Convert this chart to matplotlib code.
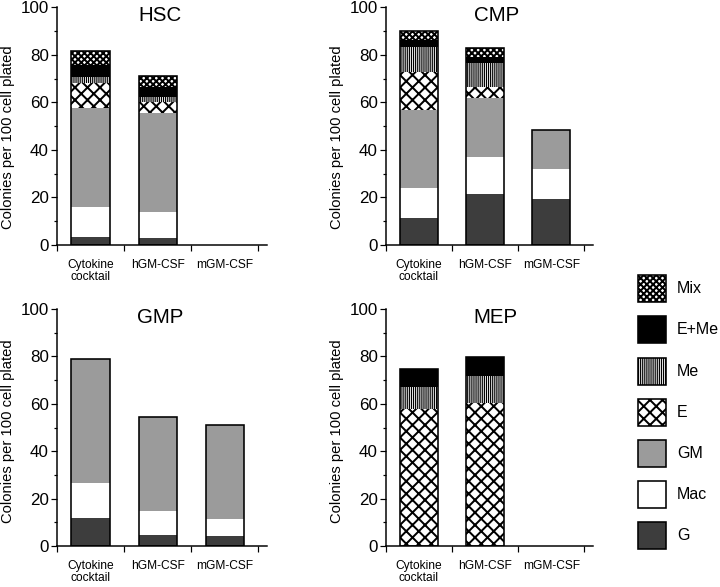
import matplotlib
matplotlib.use('Agg')
import matplotlib.pyplot as plt
from matplotlib.patches import Rectangle

plt.rcParams['font.family'] = ['Liberation Sans', 'DejaVu Sans']

# ---------------- data ----------------
conditions = ['Cytokine\ncocktail', 'hGM-CSF', 'mGM-CSF']
colony_types = ['G', 'Mac', 'GM', 'E', 'Me', 'E+Me', 'Mix']   # bottom -> top
panel_names = ['HSC', 'CMP', 'GMP', 'MEP']

# segment heights per condition, in order of colony_types
hsc_cytokine = [3.5, 12.5, 41.5, 10.5, 2.8, 4.9, 5.9]
hsc_hgm      = [3.0, 11.0, 41.7, 4.6, 2.1, 4.2, 4.6]
hsc_mgm      = [0, 0, 0, 0, 0, 0, 0]

cmp_cytokine = [11.2, 12.9, 32.5, 16.0, 10.8, 2.8, 4.0]
cmp_hgm      = [21.3, 15.6, 25.0, 4.4, 10.1, 2.8, 3.6]
cmp_mgm      = [19.5, 12.3, 16.6, 0, 0, 0, 0]

gmp_cytokine = [11.7, 15.0, 52.3, 0, 0, 0, 0]
gmp_hgm      = [4.5, 10.3, 39.5, 0, 0, 0, 0]
gmp_mgm      = [4.2, 7.1, 39.7, 0, 0, 0, 0]

mep_cytokine = [0, 0, 0, 57.7, 9.5, 7.4, 0]
mep_hgm      = [0, 0, 0, 60.2, 11.5, 7.9, 0]
mep_mgm      = [0, 0, 0, 0, 0, 0, 0]

panel_data = {
    'HSC': [hsc_cytokine, hsc_hgm, hsc_mgm],
    'CMP': [cmp_cytokine, cmp_hgm, cmp_mgm],
    'GMP': [gmp_cytokine, gmp_hgm, gmp_mgm],
    'MEP': [mep_cytokine, mep_hgm, mep_mgm],
}

# ---------------- style ----------------
DPI = 75
W, H = 720, 587
def pt(px):
    return px * 72.0 / DPI

styles = {
    'G':    dict(fc='#3d3d3d', hatch=None, hlw=1.0),
    'Mac':  dict(fc='white',   hatch=None, hlw=1.0),
    'GM':   dict(fc='#9b9b9b', hatch=None, hlw=1.0),
    'E':    dict(fc='white',   hatch='xx',     hlw=2.0),
    'Me':   dict(fc='white',   hatch='||||||', hlw=1.2),
    'E+Me': dict(fc='black',   hatch=None, hlw=1.0),
    'Mix':  dict(fc='white',   hatch='xxxx',   hlw=2.0),
}

def make_rect_style(p, st):
    if st['hatch'] and hasattr(p, 'set_hatch_linewidth'):
        p.set_hatch_linewidth(pt(st['hlw']))

fig = plt.figure(figsize=(W / DPI, H / DPI), dpi=DPI)

# axes rectangles in pixels: left, top, right, bottom
rects = {
    'HSC': (57, 7.3, 267, 245),
    'CMP': (385.7, 7.3, 593, 245),
    'GMP': (57, 309, 267, 546),
    'MEP': (385.7, 309, 593, 546),
}
title_x = {'HSC': 0.49, 'CMP': 0.535, 'GMP': 0.49, 'MEP': 0.528}
ylabel_y = {'HSC': 0.455, 'CMP': 0.455, 'GMP': 0.485, 'MEP': 0.485}

bar_w = 0.57
for name in panel_names:
    l, t, r, b = rects[name]
    ax = fig.add_axes([l / W, 1 - b / H, (r - l) / W, (b - t) / H])
    for i, vals in enumerate(panel_data[name]):
        bottom = 0.0
        for ctype, h in zip(colony_types, vals):
            if h <= 0:
                continue
            st = styles[ctype]
            with plt.rc_context({'hatch.linewidth': pt(st['hlw'])}):
                bars = ax.bar(i, h, bottom=bottom, width=bar_w, color=st['fc'],
                              edgecolor='black', linewidth=0, hatch=st['hatch'])
            for p in bars:
                make_rect_style(p, st)
            bottom += h
        if bottom > 0:
            ax.bar(i, bottom, width=bar_w, fill=False, edgecolor='black',
                   linewidth=pt(1.6), zorder=3)
    ax.set_xlim(-0.5, 2.63)
    ax.set_ylim(0, 100)
    for s in ['top', 'right']:
        ax.spines[s].set_visible(False)
    for s in ['left', 'bottom']:
        ax.spines[s].set_linewidth(pt(1.5))
    ax.set_yticks([0, 20, 40, 60, 80, 100])
    ax.set_yticks([10, 30, 50, 70, 90], minor=True)
    ax.set_xticks([0, 1, 2])
    ax.set_xticklabels(conditions, fontsize=pt(12), linespacing=0.95, va='top')
    ax.set_xticks([-0.5, 0.5, 1.5, 2.5], minor=True)
    ax.tick_params(axis='y', which='major', direction='out', length=pt(6),
                   width=pt(1.2), labelsize=pt(17), pad=pt(2))
    ax.tick_params(axis='y', which='minor', direction='out', length=pt(3.5),
                   width=pt(1.2))
    ax.tick_params(axis='x', which='major', length=0, pad=pt(14))
    ax.tick_params(axis='x', which='minor', direction='out', length=pt(6),
                   width=pt(1.2))
    ax.set_ylabel('Colonies per 100 cell plated', fontsize=pt(14.8))
    ax.yaxis.set_label_coords(-0.2, ylabel_y[name])
    ax.text(title_x[name], 0.942, name, transform=ax.transAxes, ha='center',
            va='baseline', fontsize=pt(20.5))

# ---------------- legend ----------------
lax = fig.add_axes([0, 0, 1, 1], zorder=-1)
lax.set_xlim(0, W)
lax.set_ylim(H, 0)
lax.axis('off')
legend_order = ['Mix', 'E+Me', 'Me', 'E', 'GM', 'Mac', 'G']
for k, ctype in enumerate(legend_order):
    st = styles[ctype]
    cy = 288.7 + k * 41.2
    with plt.rc_context({'hatch.linewidth': pt(st['hlw'])}):
        p = Rectangle((638, cy - 13.5), 28, 27, facecolor=st['fc'],
                      edgecolor='black', linewidth=0, hatch=st['hatch'])
    make_rect_style(p, st)
    lax.add_patch(p)
    lax.add_patch(Rectangle((638, cy - 13.5), 28, 27, fill=False,
                            edgecolor='black', linewidth=pt(1.6)))
    lax.text(677, cy, ctype, ha='left', va='center', fontsize=pt(16))

fig.savefig('out.png', dpi=DPI)
